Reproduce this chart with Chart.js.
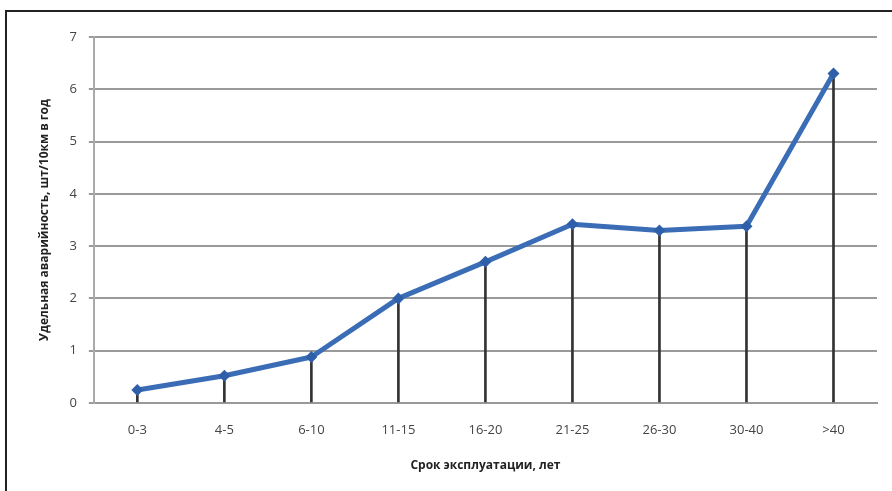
<!DOCTYPE html>
<html>
<head>
<meta charset="utf-8">
<script src="https://cdn.jsdelivr.net/npm/chart.js@4/dist/chart.umd.min.js"></script>
<style>
  html, body { margin: 0; padding: 0; background: #fff; overflow: hidden; }
  #wrap { position: relative; width: 892px; height: 491px; }
  #frame { position: absolute; left: 5px; top: 10px; width: 900px; height: 500px; border: 2px solid #222; box-sizing: border-box; }
  canvas { position: absolute; left: 0; top: 0; }
</style>
</head>
<body>
<div id="wrap">
  <div id="frame"></div>
  <canvas id="chart" width="892" height="491"></canvas>
</div>
<script>
const labels = ["0-3", "4-5", "6-10", "11-15", "16-20", "21-25", "26-30", "30-40", ">40"];
const values = [0.25, 0.52, 0.88, 2.0, 2.7, 3.42, 3.3, 3.38, 6.3];
const yTicks = [0, 1, 2, 3, 4, 5, 6, 7];

const ctx = document.getElementById("chart");
const chart = new Chart(ctx, {
  data: {
    labels: labels,
    datasets: [
      {
        type: "line",
        data: values,
        borderColor: "#3a6db5",
        backgroundColor: "#2f5fa8",
        borderWidth: 5,
        borderJoinStyle: "round",
        pointStyle: "rectRot",
        pointRadius: 6,
        pointBorderWidth: 0,
        tension: 0,
        order: 1
      },
      {
        // drop lines
        type: "bar",
        data: values,
        backgroundColor: "#333",
        barThickness: 2,
        order: 2
      }
    ]
  },
  options: {
    responsive: false,
    animation: false,
    layout: { padding: { left: 33, right: 15, top: 37, bottom: 14 } },
    plugins: { legend: { display: false }, tooltip: { enabled: false } },
    scales: {
      x: {
        offset: true,
        grid: { display: false },
        border: { color: "#999", width: 2 },
        ticks: { color: "#444", font: { family: "Open Sans", size: 13 }, padding: 11 },
        title: {
          display: true,
          text: "Срок эксплуатации, лет",
          color: "#222",
          font: { family: "Open Sans", size: 12, weight: "bold" },
          padding: { top: 10 }
        }
      },
      y: {
        min: 0,
        max: 7,
        afterBuildTicks: axis => { axis.ticks = yTicks.map(v => ({ value: v })) },
        grid: { color: "#9a9a9a", lineWidth: 2, drawTicks: true, tickLength: 5 },
        border: { color: "#aaa", width: 2 },
        ticks: { color: "#444", font: { family: "Open Sans", size: 13 }, padding: 12 },
        title: {
          display: true,
          text: "Удельная аварийность, шт/10км в год",
          color: "#222",
          font: { family: "Open Sans", size: 12, weight: "bold" },
          padding: { bottom: 6 }
        }
      }
    }
  }
});
</script>
</body>
</html>
